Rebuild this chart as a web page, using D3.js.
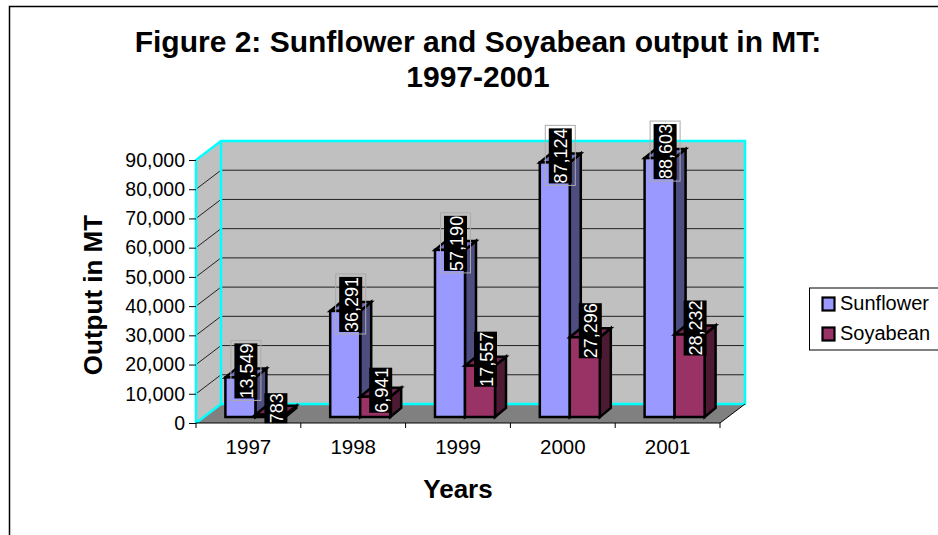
<!DOCTYPE html>
<html><head><meta charset="utf-8">
<style>html,body{margin:0;padding:0;background:#fff}svg{display:block}text{font-family:"Liberation Sans",Arial,sans-serif;fill:#000}</style>
<script src="https://cdn.jsdelivr.net/npm/d3@7"></script></head><body>
<script>
const years = ["1997","1998","1999","2000","2001"];
const sunflower = [13549,36291,57190,87124,88603];
const soyabean = [783,6941,17557,27296,28232];
const seriesNames = ["Sunflower","Soyabean"];
const frontColors = ["#9999ff","#993366"];
const topColors = ["#7373bf","#732650"];
const sideColors = ["#4d4d80","#4d1a33"];
const tickValues = d3.range(0,90001,10000);

const W=938,H=535;
const svg=d3.select("body").append("svg").attr("width",W).attr("height",H);
const x=d3.scaleBand().domain(years).range([196,720]);
const y=d3.scaleLinear().domain([0,90000]).range([423,160]);
const DX=25,DY=-19;      // wall depth
const BX=11,BY=-9;       // bar depth
const bx=7,by=-6;        // bar offset from the front of the floor
const BW=30;
const fmt=d3.format(",");
const pts=a=>a.map(p=>p.join(",")).join(" ");

// chart frame (top and left edges only)
svg.append("path").attr("d","M9.5,535V6.5H938").attr("fill","none").attr("stroke","#000").attr("stroke-width",1.5);

// title
svg.append("g").selectAll("text").data(["Figure 2: Sunflower and Soyabean output in MT:","1997-2001"]).join("text")
 .attr("x",478).attr("y",(d,i)=>52+i*35).attr("text-anchor","middle").attr("font-size",30).attr("font-weight","bold").text(d=>d);

// walls and floor
const [x0,x1]=x.range(),y0=y(0),yT=y(90000);
svg.append("polygon").attr("points",pts([[x0,y0],[x1,y0],[x1+DX,y0+DY],[x0+DX,y0+DY]])).attr("fill","#808080");
svg.append("polygon").attr("points",pts([[x0,y0],[x0+DX,y0+DY],[x0+DX,yT+DY],[x0,yT]])).attr("fill","#c0c0c0");
svg.append("rect").attr("x",x0+DX).attr("y",yT+DY).attr("width",x1-x0).attr("height",y0-yT).attr("fill","#c0c0c0");
// gridlines
const grid=svg.append("g").attr("stroke","#222").attr("stroke-width",1).attr("fill","none");
grid.selectAll("path").data(tickValues.slice(1,-1)).join("path")
 .attr("d",d=>`M${x0},${y(d)}L${x0+DX},${y(d)+DY}H${x1+DX}`);
// cyan wall edges
svg.append("path").attr("d",`M${x0},${y0}V${yT}L${x0+DX},${yT+DY}H${x1+DX}V${y0+DY}H${x0+DX}V${yT+DY}M${x0+DX},${y0+DY}L${x0},${y0}`)
 .attr("fill","none").attr("stroke","#00ffff").attr("stroke-width",2.5);
// floor outer edge
svg.append("path").attr("d",`M${x1},${y0}L${x1+DX},${y0+DY}`).attr("stroke","#000").attr("stroke-width",1);

// axes
const axisY=svg.append("g").attr("transform",`translate(${x0},0)`).call(d3.axisLeft(y).tickValues(tickValues).tickFormat(fmt).tickSize(7).tickPadding(4));
axisY.select(".domain").remove();
axisY.selectAll("text").attr("font-size",19.5).style("font-family",'"Liberation Sans",Arial,sans-serif');
axisY.selectAll("line").attr("stroke","#000");
svg.append("line").attr("x1",x0).attr("x2",x1).attr("y1",y0).attr("y2",y0).attr("stroke","#000").attr("stroke-width",1.2);
svg.append("g").attr("stroke","#000").selectAll("line").data(d3.range(6)).join("line")
 .attr("x1",i=>x0+i*x.bandwidth()).attr("x2",i=>x0+i*x.bandwidth()).attr("y1",y0).attr("y2",y0+5);
svg.append("g").selectAll("text").data(years).join("text")
 .attr("x",d=>x(d)+x.bandwidth()/2).attr("y",454).attr("text-anchor","middle").attr("font-size",20.5).text(d=>d);

// axis titles
svg.append("text").attr("transform","translate(102,295) rotate(-90)").attr("text-anchor","middle").attr("font-size",26).attr("font-weight","bold").text("Output in MT");
svg.append("text").attr("x",458).attr("y",498).attr("text-anchor","middle").attr("font-size",26).attr("font-weight","bold").text("Years");

// bars
const rows=years.map((yr,i)=>({yr,vals:[sunflower[i],soyabean[i]]}));
const bars=svg.append("g").attr("stroke","#000").attr("stroke-width",2.5).attr("stroke-linejoin","miter");
rows.forEach(r=>{
  r.vals.forEach((v,s)=>{
    const l=x(r.yr)+x.bandwidth()/2+bx-BW+s*BW, rr=l+BW, b=y(0)+by, t=y(v)+by;
    bars.append("polygon").attr("points",pts([[rr,b],[rr+BX,b+BY],[rr+BX,t+BY],[rr,t]])).attr("fill",sideColors[s]);
    bars.append("polygon").attr("points",pts([[l,t],[l+BX,t+BY],[rr+BX,t+BY],[rr,t]])).attr("fill",topColors[s]);
    bars.append("rect").attr("x",l).attr("y",t).attr("width",BW).attr("height",b-t).attr("fill",frontColors[s]);
  });
});

// data labels
const labels=svg.append("g");
rows.forEach(r=>{
  r.vals.forEach((v,s)=>{
    const l=x(r.yr)+x.bandwidth()/2+bx-BW+s*BW;
    const cx=l+BW/2+BX/2, cy=y(v)+by+BY/2-2;
    const g=labels.append("g").attr("transform",`translate(${cx},${cy}) rotate(-90)`);
    const t=g.append("text").attr("text-anchor","middle").attr("y",7).attr("font-size",18).style("fill","#fff").text(fmt(v));
    const len=t.node().getComputedTextLength();
    g.insert("rect","text").attr("x",-len/2).attr("y",-11.5).attr("width",len).attr("height",23).attr("fill","#000");
    if(s===0) g.insert("rect","text").attr("x",-len/2-2).attr("y",-15).attr("width",len+5).attr("height",30).attr("fill","none").attr("stroke","#aaa").attr("stroke-width",1);
  });
});

// legend
svg.append("rect").attr("x",809.5).attr("y",288).attr("width",140).attr("height",62).attr("fill","#fff").attr("stroke","#000");
seriesNames.forEach((n,i)=>{
  const ly=304+i*30;
  svg.append("rect").attr("x",822.5).attr("y",ly-6.5).attr("width",12).attr("height",13).attr("fill",frontColors[i]).attr("stroke","#000").attr("stroke-width",2.2);
  svg.append("text").attr("x",840).attr("y",ly+6).attr("font-size",20).text(n);
});
</script></body></html>
